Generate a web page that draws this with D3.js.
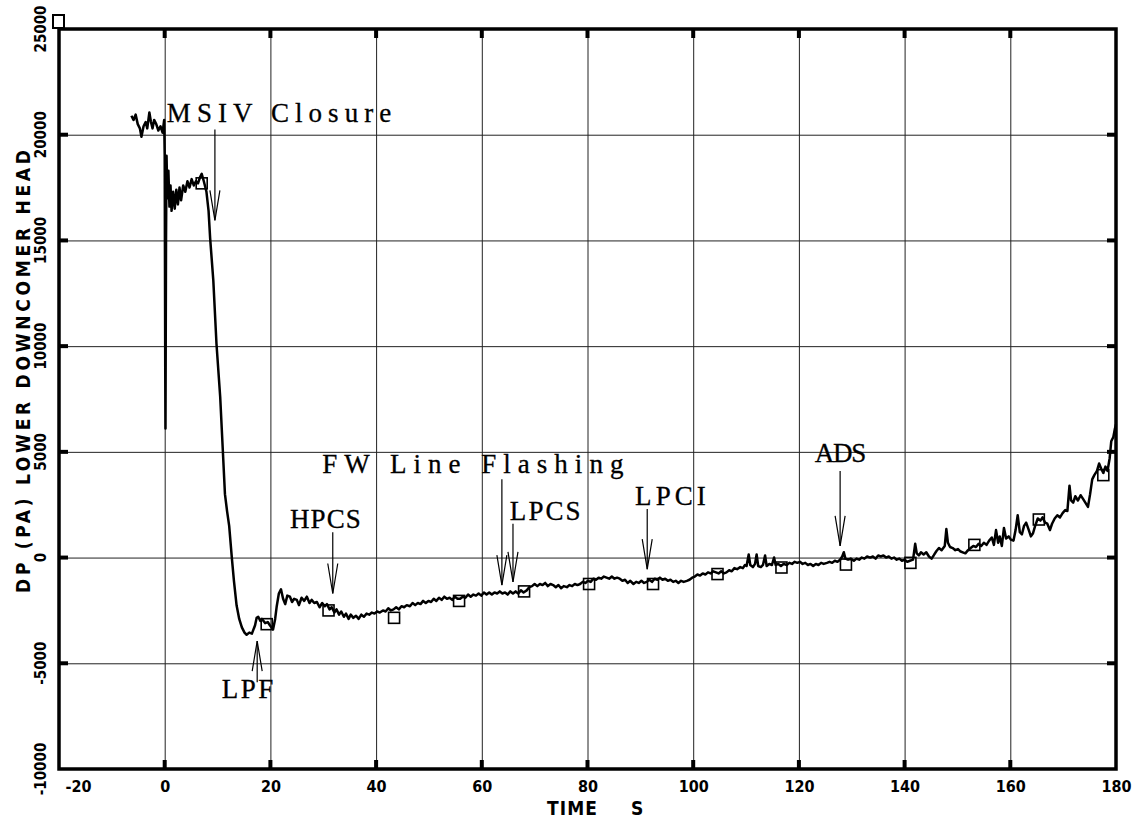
<html>

<head>
    <meta charset="utf-8">
    <script src="https://d3js.org/d3.v7.min.js"></script>
    <style>
        body { margin: 0; background: #fff; }
    </style>
</head>

<body>
    <div id="vis"></div>
</body>

<script>

    // axis ticks
    var xTicks = [-20, 0, 20, 40, 60, 80, 100, 120, 140, 160, 180];
    var yTicks = [-10000, -5000, 0, 5000, 10000, 15000, 20000, 25000];

    // DP (Pa) lower downcomer head vs time (s)
    var trace = [
        [-6.3, 20900], [-5.9, 20700], [-5.5, 20950], [-5.1, 20500], [-4.7, 20300], [-4.4, 19900],
        [-4.0, 20400], [-3.6, 20600], [-3.3, 20300], [-2.9, 21050], [-2.6, 20600], [-2.3, 20300],
        [-2.0, 20700], [-1.6, 20500], [-1.2, 20200], [-0.8, 20400], [-0.4, 20100], [-0.1, 20700],
        [0.0, 19000], [0.1, 9000], [0.15, 6100], [0.25, 15000], [0.35, 19000], [0.5, 17000],
        [0.7, 18300], [0.9, 16600], [1.1, 17600], [1.3, 16400], [1.6, 17300], [1.9, 16500],
        [2.2, 17400], [2.5, 16700], [2.8, 17500], [3.1, 16900], [3.5, 17600], [3.9, 17300],
        [4.3, 17800], [4.7, 17500], [5.1, 17900], [5.5, 17600], [5.9, 17800], [6.3, 17700],
        [6.7, 18000], [7.0, 18150], [7.4, 17800], [7.9, 17300], [8.3, 16400], [8.6, 15100],
        [9.2, 13100], [9.8, 10100], [10.5, 7600], [11.0, 5050], [11.4, 3000], [11.8, 2200],
        [12.2, 1500], [12.7, 0], [13.1, -1100], [13.6, -2260], [14.1, -2900], [14.6, -3300],
        [15.1, -3550], [15.5, -3650], [16.0, -3550], [16.5, -3600], [17.1, -3200], [17.4, -2850],
        [17.7, -2800], [18.1, -3000], [18.4, -2900], [19.0, -3100], [19.5, -3050], [19.9, -3200],
        [20.5, -3400], [20.9, -2900], [21.2, -2300], [21.6, -1700], [22.0, -1500], [22.4, -1950],
        [22.8, -2200], [23.2, -1800], [23.7, -1850], [24.1, -2100], [24.5, -1950], [25.0, -2000],
        [25.4, -2250], [25.9, -1900], [26.4, -2050], [26.9, -1850], [27.4, -2150], [27.8, -2000],
        [28.3, -2150], [28.8, -2100], [29.3, -2350], [29.8, -2150], [30.3, -2300], [30.7, -2200],
        [31.2, -2450], [31.6, -2350], [32.1, -2600], [32.5, -2450], [33.0, -2700], [33.4, -2550],
        [33.9, -2800], [34.3, -2650], [34.8, -2900], [35.2, -2700], [35.7, -2850], [36.2, -2750],
        [36.7, -2900], [37.2, -2700], [37.7, -2800], [38.2, -2650], [38.7, -2700], [39.2, -2600],
        [39.7, -2650], [40.2, -2550], [40.7, -2600], [41.3, -2500], [41.8, -2550], [42.3, -2400],
        [42.8, -2500], [43.3, -2450], [43.8, -2350], [44.3, -2450], [44.8, -2300], [45.3, -2350],
        [45.8, -2250], [46.4, -2300], [46.9, -2150], [47.4, -2250], [47.9, -2150], [48.4, -2200],
        [48.9, -2050], [49.4, -2150], [49.9, -2050], [50.4, -2100], [50.9, -1950], [51.4, -2050],
        [51.9, -1900], [52.4, -2000], [52.9, -1850], [53.4, -1950], [53.9, -1900], [54.4, -2000],
        [54.9, -1850], [55.4, -1950], [55.9, -1950], [56.4, -1850], [56.9, -1900], [57.4, -1750],
        [57.9, -1850], [58.4, -1750], [58.9, -1800], [59.4, -1700], [59.9, -1800], [60.4, -1650],
        [60.9, -1750], [61.4, -1650], [61.9, -1750], [62.4, -1650], [62.9, -1700], [63.4, -1600],
        [63.9, -1700], [64.4, -1650], [64.9, -1750], [65.4, -1600], [65.9, -1700], [66.4, -1600],
        [66.9, -1700], [67.4, -1550], [67.9, -1650], [68.5, -1550], [69.0, -1400], [69.5, -1350],
        [70.0, -1250], [70.5, -1350], [71.0, -1250], [71.5, -1300], [72.0, -1200], [72.5, -1350],
        [73.0, -1250], [73.5, -1300], [74.0, -1400], [74.5, -1300], [75.0, -1450], [75.5, -1350],
        [76.1, -1400], [76.6, -1300], [77.1, -1350], [77.6, -1250], [78.1, -1300], [78.6, -1250],
        [79.1, -1150], [79.6, -1200], [80.1, -1100], [80.6, -1150], [81.1, -1000], [81.6, -1050],
        [82.1, -950], [82.6, -1000], [83.1, -900], [83.6, -950], [84.1, -1000], [84.6, -900],
        [85.1, -1000], [85.6, -950], [86.1, -1000], [86.6, -1100], [87.1, -1050], [87.6, -1200],
        [88.1, -1100], [88.7, -1250], [89.2, -1150], [89.7, -1200], [90.2, -1100], [90.7, -1200],
        [91.2, -1150], [91.7, -1050], [92.2, -1150], [92.7, -1000], [93.2, -1050], [93.7, -950],
        [94.2, -1050], [94.7, -1000], [95.2, -1100], [95.7, -1050], [96.2, -1150], [96.7, -1100],
        [97.2, -1200], [97.7, -1100], [98.2, -1150], [98.8, -1100], [99.3, -1050], [99.8, -950],
        [100.3, -900], [100.8, -800], [101.3, -850], [101.8, -750], [102.3, -800], [102.8, -700],
        [103.3, -750], [103.8, -650], [104.3, -700], [104.8, -750], [105.3, -650], [105.8, -750],
        [106.3, -700], [106.8, -600], [107.3, -650], [107.8, -500], [108.3, -550], [108.9, -450],
        [109.4, -500], [109.8, -350], [110.1, -400], [110.5, 150], [110.8, -350], [111.3, -450],
        [111.7, -300], [112.0, 150], [112.3, -400], [112.8, -450], [113.2, -350], [113.6, 100],
        [113.9, -400], [114.4, -300], [114.9, -350], [115.3, 0], [115.6, -350], [116.1, -300],
        [116.6, -400], [117.1, -300], [117.7, -350], [118.2, -250], [118.7, -300], [119.2, -200],
        [119.7, -250], [120.2, -200], [120.7, -300], [121.2, -250], [121.7, -350], [122.2, -300],
        [122.7, -400], [123.2, -300], [123.7, -350], [124.2, -250], [124.7, -300], [125.3, -250],
        [125.8, -200], [126.3, -250], [126.8, -150], [127.3, -200], [127.8, -100], [128.2, 50],
        [128.5, 250], [128.8, -50], [129.3, -100], [129.8, -50], [130.4, -150], [130.9, -50],
        [131.4, -100], [131.9, 0], [132.4, -50], [132.9, 50], [133.5, 0], [134.0, 50],
        [134.5, -50], [135.0, 100], [135.5, 50], [136.0, 100], [136.5, 0], [137.0, 50],
        [137.5, -50], [138.0, 0], [138.5, -100], [139.0, -50], [139.5, -150], [140.0, -100],
        [140.5, -200], [141.0, -150], [141.6, -100], [142.0, 650], [142.3, 200], [142.7, 100],
        [143.1, 250], [143.6, 150], [144.1, 250], [144.6, 50], [145.1, -50], [145.5, 100],
        [146.0, 300], [146.5, 450], [147.0, 350], [147.6, 550], [147.9, 1350], [148.2, 700],
        [148.6, 500], [149.1, 450], [149.6, 350], [150.1, 400], [150.5, 300], [151.0, 250],
        [151.5, 200], [152.0, 350], [152.5, 450], [153.0, 550], [153.5, 500], [154.0, 650],
        [154.5, 550], [155.0, 700], [155.5, 600], [156.0, 800], [156.5, 950], [156.9, 600],
        [157.3, 1300], [157.7, 700], [158.0, 1000], [158.4, 550], [158.8, 1400], [159.2, 900],
        [159.7, 1000], [160.1, 850], [160.6, 800], [161.0, 1300], [161.4, 2000], [161.8, 1200],
        [162.2, 1100], [162.6, 1500], [163.0, 1650], [163.5, 1300], [163.9, 1000], [164.3, 1150],
        [164.7, 1500], [165.2, 1850], [165.7, 1750], [166.1, 1900], [166.6, 1650], [167.0, 1600],
        [167.5, 1300], [167.9, 1600], [168.4, 1850], [168.9, 2000], [169.4, 1900], [169.9, 2100],
        [170.4, 2250], [170.8, 2200], [171.2, 3400], [171.5, 2700], [171.9, 2600], [172.3, 2900],
        [172.8, 2700], [173.3, 2950], [173.7, 2800], [174.2, 2600], [174.7, 2400], [175.1, 3000],
        [175.5, 3700], [175.9, 3900], [176.4, 4100], [176.8, 4450], [177.2, 4200], [177.6, 4000],
        [178.0, 4300], [178.4, 4100], [178.8, 4700], [179.1, 5500], [179.5, 5700], [179.8, 6100],
        [180.0, 6300]
    ];

    // square symbols along the curve
    var markerTime = [7.0, 19.3, 31.0, 43.4, 55.7, 68.0, 80.3, 92.4, 104.6, 116.7, 128.9, 141.1, 153.2, 165.4, 177.6];
    var markerDp = [17700, -3150, -2500, -2850, -2050, -1600, -1250, -1250, -780, -470, -330, -250, 600, 1800, 3900];

    // event annotations: label, text start (time, dp), arrow time, arrow tail dp, arrow tip dp
    var eventLabel = ["MSIV Closure", "FW Line Flashing", "HPCS", "LPCS", "LPCI", "ADS", "LPF"];
    var eventTextTime = [0.4, 29.8, 23.7, 65.3, 89.0, 123.0, 10.8];
    var eventTextDp = [20600, 4000, 1400, 1800, 2500, 4500, -6650];
    var eventTime = [9.5, 63.8, 31.8, 65.9, 91.3, 127.8, 17.5];
    var eventTailDp = [20250, 3700, 1200, 1600, 2300, 4100, -5900];
    var eventTipDp = [15950, -1300, -1700, -1150, -550, 550, -3950];

    var W = 1138, H = 820;
    var pLeft = 59, pRight = 1116, pTop = 29, pBottom = 769;

    var svg = d3.select("#vis")
        .append("svg")
        .attr("width", W)
        .attr("height", H)
        .style("background", "#fff");

    var x = d3.scaleLinear().domain([-20, 180]).range([pLeft, pRight]);
    var y = d3.scaleLinear().domain([-10000, 25000]).range([pBottom, pTop]);

    // grid lines through the axes
    var gx = svg.append("g")
        .attr("transform", "translate(0," + pBottom + ")")
        .call(d3.axisBottom(x).tickValues(xTicks.slice(1, -1)).tickSize(-(pBottom - pTop)).tickFormat(""));
    gx.select(".domain").remove();
    gx.selectAll("line").attr("stroke", "#222").attr("stroke-width", 1);

    var gy = svg.append("g")
        .attr("transform", "translate(" + pLeft + ",0)")
        .call(d3.axisLeft(y).tickValues(yTicks.slice(1, -1)).tickSize(-(pRight - pLeft)).tickFormat(""));
    gy.select(".domain").remove();
    gy.selectAll("line").attr("stroke", "#222").attr("stroke-width", 1);

    // thick inward tick marks on all four sides
    var tickLen = 9, tickW = 4;
    xTicks.slice(1, -1).forEach(function (t) {
        svg.append("rect").attr("x", x(t) - tickW / 2).attr("y", pBottom - tickLen).attr("width", tickW).attr("height", tickLen);
        svg.append("rect").attr("x", x(t) - tickW / 2).attr("y", pTop).attr("width", tickW).attr("height", tickLen);
    });
    yTicks.slice(1, -1).forEach(function (v) {
        svg.append("rect").attr("x", pLeft).attr("y", y(v) - tickW / 2).attr("width", tickLen).attr("height", tickW);
        svg.append("rect").attr("x", pRight - tickLen).attr("y", y(v) - tickW / 2).attr("width", tickLen).attr("height", tickW);
    });

    // frame
    svg.append("rect")
        .attr("x", pLeft).attr("y", pTop)
        .attr("width", pRight - pLeft).attr("height", pBottom - pTop)
        .attr("fill", "none")
        .attr("stroke", "#000")
        .attr("stroke-width", 3.5);

    var axisFont = "'DejaVu Sans Condensed', 'DejaVu Sans', sans-serif";

    // x tick labels
    var xl = svg.append("g")
        .attr("transform", "translate(0," + pBottom + ")")
        .call(d3.axisBottom(x).tickValues(xTicks).tickSize(0).tickPadding(12).tickFormat(function (d) { return String(d); }));
    xl.select(".domain").remove();
    xl.selectAll("text")
        .style("font-family", axisFont)
        .style("font-weight", "bold")
        .style("font-size", "16px")
        .attr("fill", "#000");
    xl.selectAll("text").filter(function (d) { return d === -20; })
        .attr("text-anchor", "start").attr("x", 6);

    // y tick labels, rotated
    svg.append("g")
        .selectAll("text")
        .data(yTicks)
        .enter()
        .append("text")
        .attr("transform", function (d) { return "translate(41," + y(d) + ") rotate(-90)"; })
        .attr("text-anchor", "middle")
        .attr("dominant-baseline", "central")
        .style("font-family", axisFont)
        .style("font-weight", "bold")
        .style("font-size", "15px")
        .text(function (d) { return String(d); });

    // axis titles
    svg.append("text")
        .attr("transform", "translate(23,593) rotate(-90)")
        .attr("dominant-baseline", "central")
        .attr("textLength", 443)
        .attr("lengthAdjust", "spacing")
        .style("font-family", axisFont)
        .style("font-weight", "bold")
        .style("font-size", "19px")
        .text("DP (PA)  LOWER DOWNCOMER HEAD");

    svg.append("text")
        .attr("x", 547).attr("y", 815)
        .attr("textLength", 50)
        .style("font-family", axisFont)
        .style("font-weight", "bold")
        .style("font-size", "19px")
        .text("TIME");
    svg.append("text")
        .attr("x", 631).attr("y", 815)
        .style("font-family", axisFont)
        .style("font-weight", "bold")
        .style("font-size", "19px")
        .text("S");

    // the trace
    var line = d3.line()
        .x(function (d) { return x(d[0]); })
        .y(function (d) { return y(d[1]); });

    svg.append("path")
        .datum(trace)
        .attr("d", line)
        .attr("fill", "none")
        .attr("stroke", "#000")
        .attr("stroke-width", 2.5)
        .attr("stroke-linejoin", "round");

    // square markers
    var ms = 11;
    svg.append("g")
        .selectAll("rect")
        .data(markerTime)
        .enter()
        .append("rect")
        .attr("x", function (d) { return x(d) - ms / 2; })
        .attr("y", function (d, i) { return y(markerDp[i]) - ms / 2; })
        .attr("width", ms).attr("height", ms)
        .attr("fill", "none")
        .attr("stroke", "#000")
        .attr("stroke-width", 1.6);

    // legend symbol above the corner
    svg.append("rect")
        .attr("x", pLeft - 6).attr("y", pTop - 14)
        .attr("width", ms).attr("height", ms + 2)
        .attr("fill", "#fff")
        .attr("stroke", "#000")
        .attr("stroke-width", 2);

    // event labels, typewriter look: serif face spread to a fixed pitch
    var pitch = 19.2;
    svg.append("g")
        .selectAll("text")
        .data(eventLabel)
        .enter()
        .append("text")
        .attr("x", function (d, i) { return x(eventTextTime[i]); })
        .attr("y", function (d, i) { return y(eventTextDp[i]); })
        .attr("textLength", function (d) { return d.length * pitch - 6; })
        .attr("lengthAdjust", "spacing")
        .style("font-family", "'Liberation Serif', serif")
        .style("font-size", "27px")
        .attr("fill", "#000")
        .attr("stroke", "#000")
        .attr("stroke-width", 0.3)
        .text(function (d) { return d; });

    // arrows with long open heads
    var headLen = 30, headW = 5;
    eventLabel.forEach(function (lab, i) {
        var ax = x(eventTime[i]), y0 = y(eventTailDp[i]), y1 = y(eventTipDp[i]);
        var dir = y1 > y0 ? 1 : -1;
        var g = svg.append("g").attr("stroke", "#000").attr("stroke-width", 1.2).attr("fill", "none");
        g.append("line").attr("x1", ax).attr("y1", y0).attr("x2", ax).attr("y2", y1);
        g.append("path").attr("d",
            "M" + (ax - headW) + "," + (y1 - dir * headLen) +
            "L" + ax + "," + y1 +
            "L" + (ax + headW) + "," + (y1 - dir * headLen));
    });

</script>

</html>
